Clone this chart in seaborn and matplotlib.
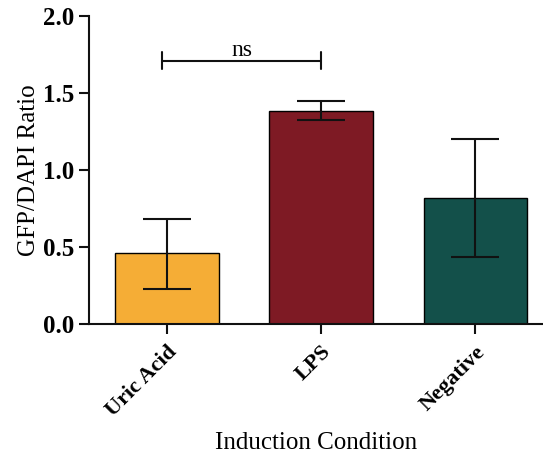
import matplotlib
matplotlib.use("Agg")
import matplotlib.pyplot as plt
import seaborn as sns
import pandas as pd

conditions = ["Uric Acid", "LPS", "Negative"]
means = [0.46, 1.385, 0.82]
err_low = [0.23, 1.325, 0.437]
err_high = [0.68, 1.445, 1.20]
colors = ["#F5AD36", "#7E1A24", "#13504A"]
yticks = [0.0, 0.5, 1.0, 1.5, 2.0]
sig_pair = ("Uric Acid", "LPS")
sig_label = "ns"
sig_y = 1.71

sns.set_style("ticks")
plt.rcParams['font.family'] = ['Liberation Serif', 'DejaVu Serif']
plt.rcParams['text.color'] = 'black'
plt.rcParams['axes.labelcolor'] = 'black'
plt.rcParams['xtick.color'] = 'black'
plt.rcParams['ytick.color'] = 'black'

df = pd.DataFrame({"cond": conditions, "val": means})

fig = plt.figure(figsize=(5.43, 4.58), dpi=100)
ax = fig.add_axes([89/543, (458-324)/458, 1 - 89/543, (324-16)/458])

sns.barplot(data=df, x="cond", y="val", hue="cond", palette=colors,
            order=conditions, hue_order=conditions, legend=False,
            errorbar=None, width=0.67, edgecolor="black", linewidth=1.0,
            saturation=1, ax=ax)

xs = list(range(len(conditions)))
lower = [m - l for m, l in zip(means, err_low)]
upper = [h - m for m, h in zip(means, err_high)]
ax.errorbar(xs, means, yerr=[lower, upper], fmt="none", ecolor="#111111",
            elinewidth=1.5, capsize=17, capthick=1.5, zorder=5)

# significance bracket
x0 = conditions.index(sig_pair[0]) - 0.03
x1 = conditions.index(sig_pair[1])
ax.plot([x0, x1], [sig_y, sig_y], color="#111111", lw=1.5, clip_on=False)
for xx in (x0, x1):
    ax.plot([xx, xx], [sig_y - 0.055, sig_y + 0.055], color="#111111", lw=1.5, clip_on=False)
ax.text((x0 + x1) / 2, sig_y - 0.005, sig_label, ha="center", va="bottom", fontsize=17)

ax.set_ylim(0, 2.0)
ax.set_xlim(-0.506, 2.44)
ax.set_yticks(yticks)
ax.set_yticklabels([f"{t:.1f}" for t in yticks], fontsize=18, fontweight="bold")
ax.set_xticks(xs)
ax.set_xticklabels(conditions, rotation=45, ha="right", rotation_mode="anchor",
                   fontsize=16, fontweight="bold")
ax.tick_params(axis="both", direction="out", length=7, width=1.5, color="#111111")
ax.tick_params(axis="x", pad=6)
ax.set_ylabel("GFP/DAPI Ratio", fontsize=18, labelpad=2)
ax.set_xlabel("Induction Condition", fontsize=18, labelpad=8)
for s in ["left", "bottom"]:
    ax.spines[s].set_linewidth(1.5)
    ax.spines[s].set_color("#111111")
sns.despine(ax=ax)

fig.savefig("out.png", dpi=100)
